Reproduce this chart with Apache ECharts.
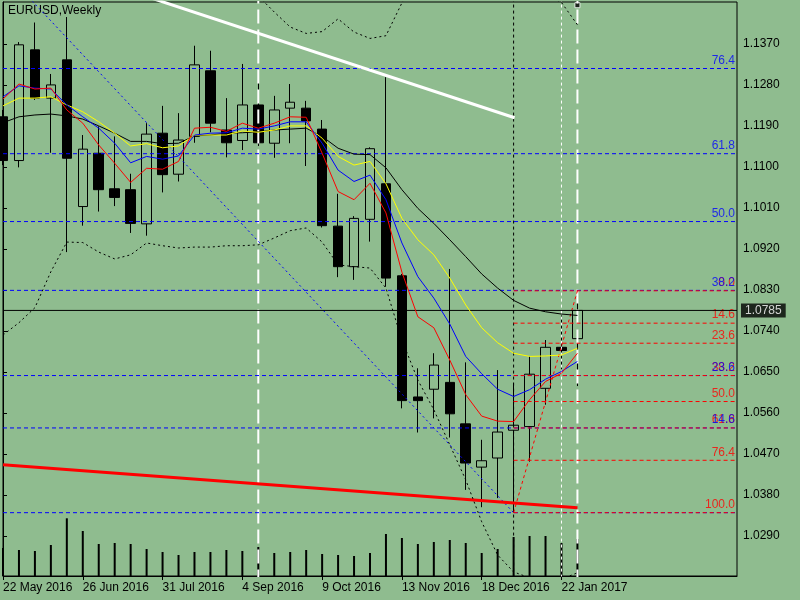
<!DOCTYPE html>
<html>
<head>
<meta charset="utf-8">
<script src="https://cdn.jsdelivr.net/npm/echarts@6.0.0/dist/echarts.min.js"></script>
<style>
    html, body { margin: 0; padding: 0; background: #8fbc8f; }
    #chart-container { width: 800px; height: 600px; }
</style>
</head>
<body>
<div id="chart-container"></div>
<script>
// 周线日期
const weeks = [
    '22 May 2016', '29 May 2016', '5 Jun 2016', '12 Jun 2016', '19 Jun 2016', '26 Jun 2016',
    '3 Jul 2016', '10 Jul 2016', '17 Jul 2016', '24 Jul 2016', '31 Jul 2016', '7 Aug 2016',
    '14 Aug 2016', '21 Aug 2016', '28 Aug 2016', '4 Sep 2016', '11 Sep 2016', '18 Sep 2016',
    '25 Sep 2016', '2 Oct 2016', '9 Oct 2016', '16 Oct 2016', '23 Oct 2016', '30 Oct 2016',
    '6 Nov 2016', '13 Nov 2016', '20 Nov 2016', '27 Nov 2016', '4 Dec 2016', '11 Dec 2016',
    '18 Dec 2016', '25 Dec 2016', '1 Jan 2017', '8 Jan 2017', '15 Jan 2017', '22 Jan 2017',
    '29 Jan 2017'
];

const opens = [1.1210, 1.1114, 1.1357, 1.1251, 1.1335, 1.1013, 1.1130, 1.1052, 1.1050, 1.0975, 1.1174, 1.1084,
    1.1167, 1.1311, 1.1181, 1.1158, 1.1236, 1.1152, 1.1229, 1.1229, 1.1183, 1.0970, 1.0881, 1.0985,
    1.1063, 1.0861, 1.0595, 1.0612, 1.0627, 1.0536, 1.0441, 1.0461, 1.0522, 1.0530, 1.0614, 1.0704, 1.0723];
const closes = [1.1114, 1.1368, 1.1251, 1.1280, 1.1119, 1.1139, 1.1050, 1.1033, 1.0976, 1.1172, 1.1083, 1.1159,
    1.1324, 1.1196, 1.1153, 1.1236, 1.1153, 1.1225, 1.1242, 1.1201, 1.0971, 1.0881, 1.0987, 1.1140,
    1.0856, 1.0587, 1.0587, 1.0665, 1.0558, 1.0450, 1.0455, 1.0518, 1.0533, 1.0645, 1.0704, 1.0697, 1.0785];
const lows = [1.1104, 1.1099, 1.1247, 1.1131, 1.0913, 1.0971, 1.1002, 1.1014, 1.0955, 1.0949, 1.1044, 1.1068,
    1.1153, 1.1176, 1.1121, 1.1137, 1.1146, 1.1120, 1.1152, 1.1102, 1.0967, 1.0858, 1.0852, 1.0936,
    1.0837, 1.0570, 1.0517, 1.0548, 1.0506, 1.0391, 1.0353, 1.0373, 1.0341, 1.0453, 1.0578, 1.0656, 1.0619];
const highs = [1.1225, 1.1374, 1.1417, 1.1304, 1.1429, 1.1170, 1.1189, 1.1167, 1.1085, 1.1196, 1.1234, 1.1218,
    1.1366, 1.1355, 1.1251, 1.1326, 1.1284, 1.1256, 1.1282, 1.1245, 1.1203, 1.1041, 1.0992, 1.1143,
    1.1297, 1.0865, 1.0658, 1.0691, 1.0876, 1.0671, 1.0501, 1.0654, 1.0626, 1.0684, 1.0720, 1.0774, 1.0828];
const volumes = [280, 260, 250, 310, 577, 450, 320, 330, 320, 270, 240, 210, 240, 240, 260, 250, 290, 230,
    240, 260, 220, 210, 200, 230, 420, 380, 320, 340, 360, 330, 230, 270, 390, 400, 400, 330, 370];

// 均线
const maRed = [1.1249, 1.1282, 1.1271, 1.1273, 1.1225, 1.1196, 1.1148, 1.1108, 1.1066, 1.1097, 1.1095, 1.1112,
    1.1185, 1.1187, 1.1178, 1.1196, 1.1185, 1.1196, 1.1210, 1.1209, 1.1130, 1.1046, 1.1028, 1.1064,
    1.0999, 1.0869, 1.0771, 1.0747, 1.0676, 1.0600, 1.0553, 1.0542, 1.0541, 1.0589, 1.0629, 1.0647, 1.0691];
const maBlue = [1.1254, 1.1278, 1.1273, 1.1271, 1.1236, 1.1210, 1.1185, 1.1152, 1.1109, 1.1123, 1.1117, 1.1124,
    1.1170, 1.1174, 1.1175, 1.1185, 1.1183, 1.1190, 1.1199, 1.1199, 1.1152, 1.1093, 1.1068, 1.1082,
    1.1028, 1.0933, 1.0859, 1.0812, 1.0755, 1.0684, 1.0646, 1.0612, 1.0596, 1.0611, 1.0634, 1.0651, 1.0673];
const maYellow = [1.1234, 1.1251, 1.1251, 1.1254, 1.1236, 1.1221, 1.1199, 1.1174, 1.1146, 1.1151, 1.1142, 1.1146,
    1.1170, 1.1170, 1.1170, 1.1179, 1.1176, 1.1181, 1.1190, 1.1190, 1.1163, 1.1123, 1.1104, 1.1112,
    1.1063, 1.0987, 1.0940, 1.0907, 1.0856, 1.0797, 1.0747, 1.0714, 1.0691, 1.0684, 1.0685, 1.0687, 1.0702];
const maBlack = [1.1197, 1.1210, 1.1214, 1.1216, 1.1212, 1.1205, 1.1190, 1.1174, 1.1156, 1.1156, 1.1151, 1.1152,
    1.1168, 1.1170, 1.1174, 1.1175, 1.1177, 1.1181, 1.1183, 1.1185, 1.1167, 1.1141, 1.1128, 1.1127,
    1.1098, 1.1050, 1.1009, 1.0976, 1.0940, 1.0903, 1.0865, 1.0834, 1.0807, 1.0790, 1.0782, 1.0777, 1.0774];
// 布林带 (超出图框的部分为估计值)
const bbUpper = [1.1663, 1.1662, 1.1640, 1.1565, 1.1500, 1.1490, 1.1485, 1.1482, 1.1480, 1.1482, 1.1485, 1.1487,
    1.1492, 1.1490, 1.1488, 1.1484, 1.1475, 1.1440, 1.1407, 1.1393, 1.1397, 1.1425, 1.1396, 1.1382,
    1.1388, 1.1460, 1.1520, 1.1545, 1.1560, 1.1575, 1.1570, 1.1550, 1.1520, 1.1495, 1.1478, 1.1461, 1.1412];
const bbLower = [1.0731, 1.0758, 1.0791, 1.0870, 1.0935, 1.0934, 1.0913, 1.0898, 1.0907, 1.0933, 1.0927, 1.0922,
    1.0924, 1.0924, 1.0927, 1.0927, 1.0929, 1.0944, 1.0960, 1.0966, 1.0935, 1.0885, 1.0881, 1.0878,
    1.0834, 1.0720, 1.0632, 1.0567, 1.0490, 1.0413, 1.0321, 1.0248, 1.0211, 1.0198, 1.0190, 1.0195, 1.0209];

// 斐波那契
const blueFibLabels = ['', '14.6', '23.6', '38.2', '50.0', '61.8', '76.4'];
const blueFibPrices = [1.0341, 1.0527, 1.0642, 1.0829, 1.0980, 1.1129, 1.1316];
const blueFibAnchors = [[-2.25, 1.1616], [32, 1.0341]];
const redFibLabels = ['0.0', '14.6', '23.6', '38.2', '50.0', '61.8', '76.4', '100.0'];
const redFibPrices = [1.0828, 1.0757, 1.0713, 1.0642, 1.0585, 1.0527, 1.0456, 1.0341];
const redFibAnchors = [[32, 1.0341], [36, 1.0828]];

// 趋势线
const whiteTrend = [[9, 1.1474], [32.06, 1.1208]];
const redTrend = [[0, 1.0446], [36, 1.0352]];

// 刻度
const yTicks = [1.0290, 1.0380, 1.0470, 1.0560, 1.0650, 1.0740, 1.0830, 1.0920, 1.1010, 1.1100, 1.1190, 1.1280, 1.1370];
const lastPrice = 1.0785;

const FONT = 'Liberation Sans';
const RIGHT = 46;
const xCats = weeks.concat(new Array(10).fill(''));
const candleData = opens.map((o, i) => [o, closes[i], lows[i], highs[i]]);
const showLabel = (index) => index % 5 === 0 && index <= 35;

const chartContainer = document.getElementById('chart-container');
const myChart = echarts.init(chartContainer);

// 水平线 (从 fromIdx 到右边界)
function levelSeries(price, fromIdx, color, dash) {
    return {
        type: 'line', xAxisIndex: 1, yAxisIndex: 0,
        data: [[fromIdx, price], [RIGHT, price]],
        symbol: 'none', silent: true,
        lineStyle: { color: color, type: dash, width: 1 }
    };
}

// 斐波那契文字 (右对齐, 线上方)
function levelLabels(prices, texts, color) {
    return {
        type: 'scatter', xAxisIndex: 1, yAxisIndex: 0,
        symbolSize: 0, silent: true,
        data: prices.map((p, i) => ({ value: [RIGHT, p], label: { formatter: texts[i] } })),
        label: {
            show: true, position: 'left', distance: 2, offset: [0, -8],
            color: color, fontSize: 12, fontFamily: FONT
        }
    };
}

function vLine(idx, color, dash, width) {
    return {
        type: 'line', xAxisIndex: 1, yAxisIndex: 0,
        data: [[idx, 0.9], [idx, 1.3]],
        symbol: 'none', silent: true,
        lineStyle: { color: color, type: dash, width: width }
    };
}

const series = [];

// 竖线
series.push(vLine(16, '#ffffff', [14, 6], 2));
series.push(vLine(36, '#ffffff', [14, 6], 2));
series.push(vLine(35, '#ffffff', [3, 3], 1));
series.push(vLine(32, '#000000', [3, 3], 1));

// 斐波那契水平线
blueFibPrices.forEach(p => series.push(levelSeries(p, 0, '#0000ff', [4, 3])));
redFibPrices.forEach(p => series.push(levelSeries(p, 32, '#ff0000', [4, 3])));

// 斐波那契斜线
series.push({
    type: 'line', xAxisIndex: 1, yAxisIndex: 0, data: blueFibAnchors, symbol: 'none', silent: true,
    lineStyle: { color: '#0000ff', type: [2, 3], width: 1 }
});
series.push({
    type: 'line', xAxisIndex: 1, yAxisIndex: 0, data: redFibAnchors, symbol: 'none', silent: true,
    lineStyle: { color: '#ff0000', type: [3, 3], width: 1 }
});

// 趋势线
series.push({
    type: 'line', xAxisIndex: 1, yAxisIndex: 0, data: whiteTrend, symbol: 'none', silent: true,
    lineStyle: { color: '#ffffff', width: 3 }
});
series.push({
    type: 'line', xAxisIndex: 1, yAxisIndex: 0, data: redTrend, symbol: 'none', silent: true,
    lineStyle: { color: '#ff0000', width: 3 }
});

// 成交量
series.push({
    type: 'bar', xAxisIndex: 0, yAxisIndex: 1,
    data: volumes, barWidth: 2, silent: true,
    itemStyle: { color: '#000' }
});

// K线
series.push({
    type: 'candlestick', xAxisIndex: 0, yAxisIndex: 0,
    data: candleData, barWidth: 10, silent: true,
    itemStyle: { color: '#8fbc8f', color0: '#000', borderColor: '#000', borderColor0: '#000', borderWidth: 1 }
});

// 当前价格线
series.push(levelSeries(lastPrice, 0, '#000000', 'solid'));

// 均线 + 布林带
series.push({ type: 'line', data: maBlack, symbol: 'none', silent: true, lineStyle: { color: '#000', width: 1 } });
series.push({ type: 'line', data: maYellow, symbol: 'none', silent: true, lineStyle: { color: '#ffff00', width: 1 } });
series.push({ type: 'line', data: maBlue, symbol: 'none', silent: true, lineStyle: { color: '#0000ff', width: 1 } });
series.push({ type: 'line', data: maRed, symbol: 'none', silent: true, lineStyle: { color: '#ff0000', width: 1 } });
series.push({ type: 'line', data: bbUpper, symbol: 'none', silent: true, lineStyle: { color: '#000', type: [2, 3], width: 1 } });
series.push({ type: 'line', data: bbLower, symbol: 'none', silent: true, lineStyle: { color: '#000', type: [2, 3], width: 1 } });

// 文字
series.push(levelLabels(redFibPrices, redFibLabels, '#ff0000'));
series.push(levelLabels(blueFibPrices, blueFibLabels, '#0000ff'));
series.push({
    type: 'scatter', xAxisIndex: 1, yAxisIndex: 0, symbolSize: 0, silent: true,
    data: [[RIGHT, lastPrice]],
    label: {
        show: true, position: 'right', distance: 4, formatter: lastPrice.toFixed(4),
        color: '#fff', backgroundColor: '#000', padding: [1, 4], fontSize: 12, fontFamily: FONT
    }
});
series.push({
    type: 'scatter', xAxisIndex: 1, yAxisIndex: 0,
    data: [[36, 1.1455]], symbol: 'rect', symbolSize: 5, silent: true,
    itemStyle: { color: '#000', borderColor: '#fff', borderWidth: 1 }
});

const option = {
    animation: false,
    backgroundColor: '#8fbc8f',
    textStyle: { fontFamily: FONT },
    grid: {
        left: 2, top: 2, right: 63, bottom: 24,
        show: true, borderColor: '#000', borderWidth: 1
    },
    graphic: [{
        type: 'text', left: 8, top: 5,
        style: { text: 'EURUSD,Weekly', fill: '#000', font: '12px ' + FONT }
    }],
    xAxis: [
        {
            type: 'category',
            data: xCats,
            boundaryGap: false,
            axisLine: { lineStyle: { color: '#000' } },
            axisTick: { interval: showLabel, length: 4, lineStyle: { color: '#000' } },
            axisLabel: { interval: showLabel, align: 'left', margin: 6, color: '#000', fontSize: 12 },
            splitLine: { show: false }
        },
        { type: 'value', min: 0, max: RIGHT, show: false, splitLine: { show: false } }
    ],
    yAxis: [
        {
            type: 'value',
            position: 'right',
            min: 1.0202,
            max: 1.1462,
            axisLine: { show: true, lineStyle: { color: '#000' } },
            axisTick: { show: true, length: 4, customValues: yTicks, lineStyle: { color: '#000' } },
            axisLabel: { customValues: yTicks, formatter: v => v.toFixed(4), color: '#000', fontSize: 12, margin: 6 },
            splitLine: { show: false }
        },
        { type: 'value', min: 0, max: 5740, show: false, splitLine: { show: false } }
    ],
    series: series
};

myChart.setOption(option, { notMerge: true });
</script>
</body>
</html>
